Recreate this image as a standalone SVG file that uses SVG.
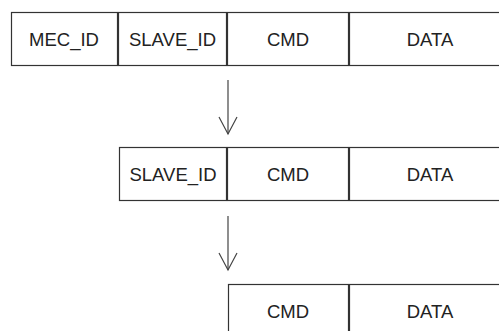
<svg xmlns="http://www.w3.org/2000/svg" width="499" height="331" viewBox="0 0 499 331">
<defs>
<style>
.cell{fill:#fff;stroke:#333;stroke-width:1.2}
.lbl{font-family:"Liberation Sans",Arial,sans-serif;font-size:18.5px;fill:#222;text-anchor:middle}
.conn{fill:none;stroke:#444;stroke-width:1.2}
</style>
<marker id="open" viewBox="0 0 20 20" refX="18" refY="10" markerWidth="20" markerHeight="20" markerUnits="userSpaceOnUse" orient="auto">
<path d="M1 1 L18 10 L1 19" fill="none" stroke="#444" stroke-width="1.2"/>
</marker>
</defs>
<rect width="499" height="331" fill="#fff"/>
<g id="row1">
<g id="r1-mec"><rect class="cell" x="11.5" y="12.5" width="106" height="53"/><text class="lbl" x="64" y="45.5">MEC_ID</text></g>
<g id="r1-slave"><rect class="cell" x="118.5" y="12.5" width="108" height="53"/><text class="lbl" x="172.5" y="45.5">SLAVE_ID</text></g>
<g id="r1-cmd"><rect class="cell" x="227.5" y="12.5" width="121" height="53"/><text class="lbl" x="288" y="45.5">CMD</text></g>
<g id="r1-data"><rect class="cell" x="349.5" y="12.5" width="162" height="53"/><text class="lbl" x="430" y="45.5">DATA</text></g>
</g>
<g id="row2">
<g id="r2-slave"><rect class="cell" x="119.5" y="147.5" width="107" height="53"/><text class="lbl" x="173" y="180.5">SLAVE_ID</text></g>
<g id="r2-cmd"><rect class="cell" x="227.5" y="147.5" width="121" height="53"/><text class="lbl" x="288" y="180.5">CMD</text></g>
<g id="r2-data"><rect class="cell" x="349.5" y="147.5" width="162" height="53"/><text class="lbl" x="430" y="180.5">DATA</text></g>
</g>
<g id="row3">
<g id="r3-cmd"><rect class="cell" x="228.5" y="284.5" width="120" height="53"/><text class="lbl" x="288" y="317.5">CMD</text></g>
<g id="r3-data"><rect class="cell" x="349.5" y="284.5" width="162" height="53"/><text class="lbl" x="430" y="317.5">DATA</text></g>
</g>
<g id="connectors">
<line class="conn" x1="228" y1="80" x2="228" y2="134" marker-end="url(#open)"/>
<line class="conn" x1="228" y1="216" x2="228" y2="270" marker-end="url(#open)"/>
</g>
</svg>
